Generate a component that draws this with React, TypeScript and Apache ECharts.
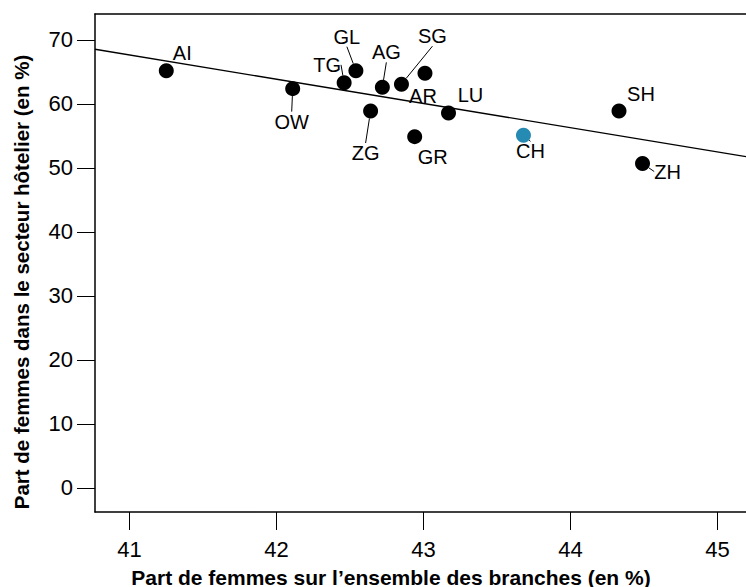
import React, { useEffect, useRef } from "react";
import * as echarts from "echarts";

const names = ["AI", "OW", "TG", "GL", "AG", "SG", "AR", "ZG", "LU", "GR", "CH", "SH", "ZH"];
const xVals = [41.25, 42.11, 42.46, 42.54, 42.72, 42.85, 43.01, 42.64, 43.17, 42.94, 43.68, 44.33, 44.49];
const yVals = [65.2, 62.4, 63.3, 65.2, 62.6, 63.1, 64.8, 58.9, 58.6, 54.9, 55.1, 58.9, 50.7];
const trendX = [40.765, 45.194];
const trendY = [68.55, 51.77];
const xTicks = [41, 42, 43, 44, 45];
const yTicks = [0, 10, 20, 30, 40, 50, 60, 70];
const highlight = "CH";

const xTitle = "Part de femmes sur l’ensemble des branches (en %)";
const yTitle = "Part de femmes dans le secteur hôtelier (en %)";

// label layout (style only)
const labelOffsets: Record<string, [number, number]> = {
  AI: [16, -18], OW: [-1, 33], TG: [-17, -18], GL: [-9, -34], AG: [4, -35],
  SG: [31, -48], AR: [-2, 23], ZG: [-5, 42], LU: [22, -18], GR: [18, 20],
  CH: [7, 16], SH: [22, -17], ZH: [25, 8],
};
const withLeader = ["OW", "TG", "GL", "AG", "SG", "ZG", "CH", "ZH"];

const FONT = "'Liberation Sans', Arial, sans-serif";

export default function App() {
  const ref = useRef<HTMLDivElement>(null);
  useEffect(() => {
    if (!ref.current) return;
    const chart = echarts.init(ref.current, undefined, { renderer: "svg" });
    const scatterData = names.map((n, i) => ({
      name: n,
      value: [xVals[i], yVals[i]],
      itemStyle: { color: n === highlight ? "#268bb2" : "#000000", opacity: 1 },
      label: { offset: labelOffsets[n] },
      labelLine: { show: withLeader.includes(n) },
    }));
    chart.setOption({
      animation: false,
      textStyle: { fontFamily: FONT },
      grid: { left: 95, top: 14, right: 0, bottom: 75, outerBoundsMode: "none" },
      xAxis: [
        {
          type: "value",
          min: trendX[0],
          max: trendX[1],
          position: "bottom",
          axisLine: { show: true, onZero: false, lineStyle: { color: "#000", width: 1.5 } },
          axisTick: { show: true, length: 18, customValues: xTicks, lineStyle: { color: "#000", width: 1 } },
          axisLabel: { customValues: xTicks, margin: 26, fontSize: 22, color: "#000", fontFamily: FONT },
          splitLine: { show: false },
        },
        {
          type: "value",
          min: trendX[0],
          max: trendX[1],
          position: "top",
          axisLine: { show: true, onZero: false, lineStyle: { color: "#000", width: 1.5 } },
          axisTick: { show: false },
          axisLabel: { show: false },
          splitLine: { show: false },
        },
      ],
      yAxis: {
        type: "value",
        min: -3.75,
        max: 74.06,
        axisLine: { show: true, onZero: false, lineStyle: { color: "#000", width: 1.5 } },
        axisTick: { show: true, length: 18, customValues: yTicks, lineStyle: { color: "#000", width: 1 } },
        axisLabel: { customValues: yTicks, margin: 22, fontSize: 22, color: "#000", fontFamily: FONT },
        splitLine: { show: false },
      },
      graphic: [
        {
          type: "text",
          x: 391,
          y: 577,
          style: {
            text: xTitle,
            font: `bold 21px ${FONT}`,
            fill: "#000",
            textAlign: "center",
            textVerticalAlign: "middle",
          },
        },
        {
          type: "text",
          x: 21,
          y: 282,
          rotation: Math.PI / 2,
          style: {
            text: yTitle,
            font: `bold 20.5px ${FONT}`,
            fill: "#000",
            textAlign: "center",
            textVerticalAlign: "middle",
          },
        },
      ],
      series: [
        {
          type: "line",
          data: trendX.map((x, i) => [x, trendY[i]]),
          symbol: "none",
          lineStyle: { color: "#000", width: 1.3 },
          z: 1,
          silent: true,
        },
        {
          type: "scatter",
          data: scatterData,
          symbolSize: 15,
          z: 3,
          label: {
            show: true,
            position: "inside",
            formatter: (p: any) => p.name,
            color: "#000",
            fontSize: 20,
            fontFamily: FONT,
            align: "center",
            verticalAlign: "middle",
          },
          labelLine: { lineStyle: { color: "#000", width: 1 } },
        },
      ],
    });
    return () => chart.dispose();
  }, []);
  return (
    <div
      ref={ref}
      style={{ position: "absolute", left: 0, top: 0, width: 746, height: 587, background: "#fff" }}
    />
  );
}
